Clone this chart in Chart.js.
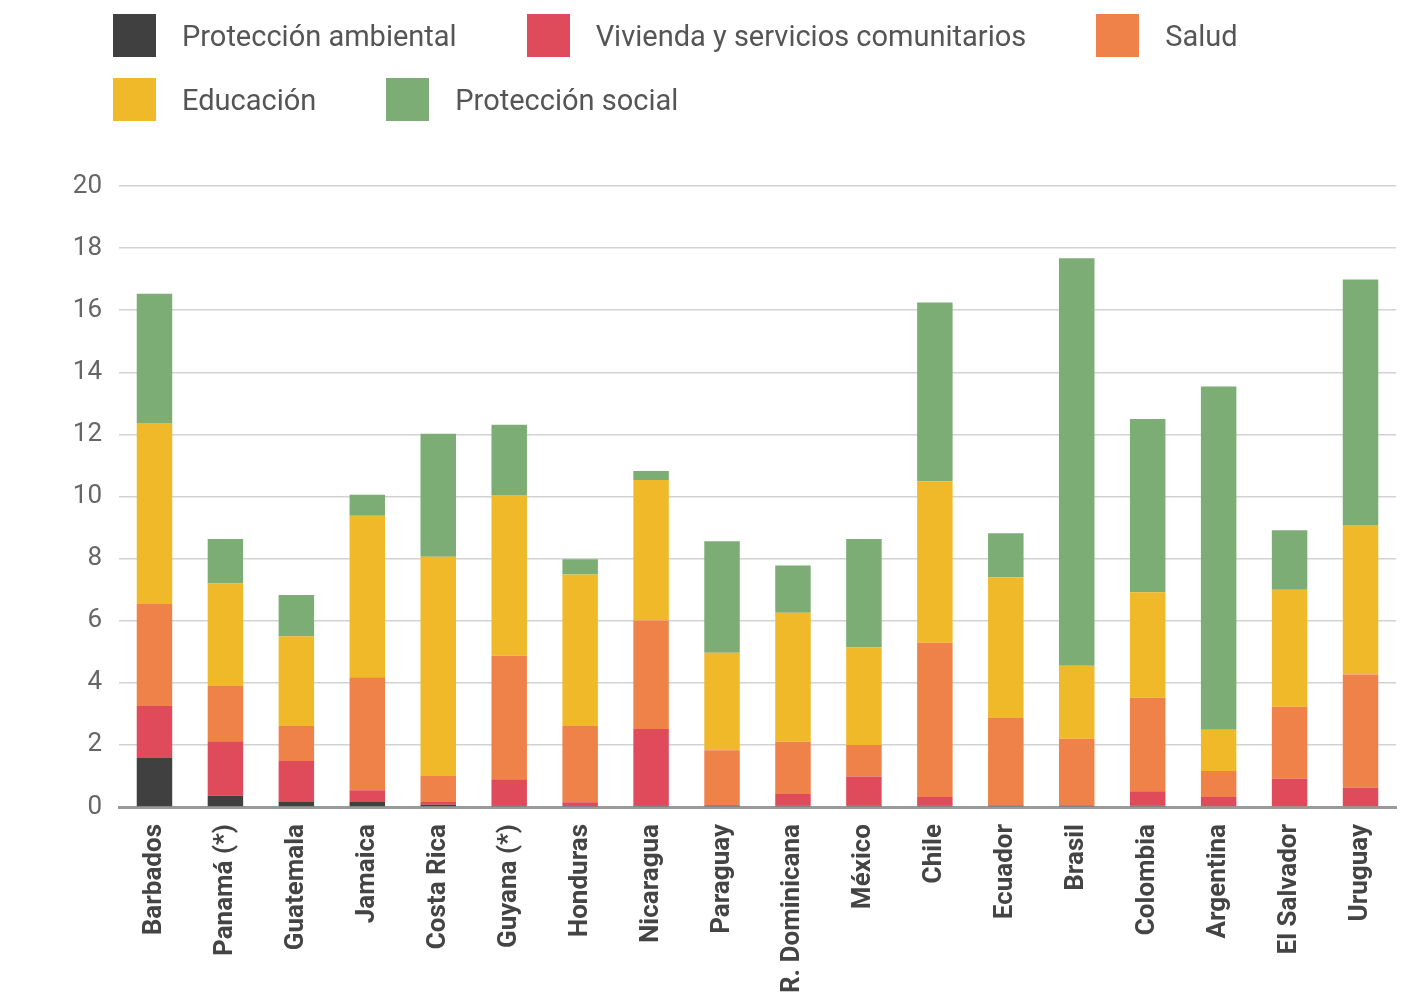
<!DOCTYPE html>
<html lang="es">
<head>
<meta charset="utf-8">
<title>Gasto social por función</title>
<script src="https://cdn.jsdelivr.net/npm/chart.js@4.4.1/dist/chart.umd.min.js"></script>
<style>
  html, body { margin: 0; padding: 0; background: #fff; }
  #wrap { position: relative; width: 1412px; height: 1001px; }
  #legend {
    position: absolute; left: 113px; top: 14px; width: 1290px;
    display: flex; flex-wrap: wrap; column-gap: 70px; row-gap: 21px;
    font-family: Roboto, sans-serif; font-size: 29px; color: #555;
  }
  .item { display: flex; align-items: center; height: 43px; }
  .box { width: 43px; height: 43px; margin-right: 26px; }
</style>
</head>
<body>
<div id="wrap">
  <div id="legend"></div>
  <canvas id="myChart" width="1412" height="1001"></canvas>
</div>
<script>
// Categorías (países) y series por función del gasto, en % del PIB
const paises = ['Barbados', 'Panamá (*)', 'Guatemala', 'Jamaica', 'Costa Rica', 'Guyana (*)',
  'Honduras', 'Nicaragua', 'Paraguay', 'R. Dominicana', 'México', 'Chile', 'Ecuador',
  'Brasil', 'Colombia', 'Argentina', 'El Salvador', 'Uruguay'];

const proteccionAmbiental = [1.58, 0.36, 0.16, 0.16, 0.07, 0.05, 0.03, 0.05, 0.05, 0.04, 0.04, 0.04, 0.04, 0.04, 0.04, 0.0, 0.0, 0.0];
const vivienda = [1.67, 1.76, 1.32, 0.38, 0.09, 0.84, 0.12, 2.46, 0.0, 0.38, 0.94, 0.28, 0.02, 0.02, 0.47, 0.32, 0.91, 0.62];
const salud = [3.29, 1.78, 1.13, 3.64, 0.84, 3.98, 2.46, 3.50, 1.78, 1.68, 1.02, 4.97, 2.81, 2.14, 3.01, 0.84, 2.32, 3.65];
const educacion = [5.83, 3.31, 2.89, 5.20, 7.06, 5.18, 4.88, 4.52, 3.14, 4.16, 3.14, 5.20, 4.53, 2.35, 3.40, 1.33, 3.77, 4.81];
const proteccionSocial = [4.16, 1.42, 1.33, 0.68, 3.96, 2.26, 0.49, 0.29, 3.59, 1.52, 3.49, 5.76, 1.42, 13.12, 5.58, 11.05, 1.91, 7.91];

const yMax = 20;
const yStep = 2;

const series = [
  { label: 'Protección ambiental', data: proteccionAmbiental, color: '#404040' },
  { label: 'Vivienda y servicios comunitarios', data: vivienda, color: '#E04B5C' },
  { label: 'Salud', data: salud, color: '#EF8248' },
  { label: 'Educación', data: educacion, color: '#EFB92A' },
  { label: 'Protección social', data: proteccionSocial, color: '#7BAD74' }
];

document.addEventListener('DOMContentLoaded', function () {
  const ctx = document.getElementById('myChart');

  // leyenda propia arriba del gráfico
  const legend = document.getElementById('legend');
  series.forEach(s => {
    const item = document.createElement('div');
    item.className = 'item';
    const box = document.createElement('span');
    box.className = 'box';
    box.style.background = s.color;
    const txt = document.createElement('span');
    txt.textContent = s.label;
    item.appendChild(box);
    item.appendChild(txt);
    legend.appendChild(item);
  });

  new Chart(ctx, {
    type: 'bar',
    data: {
      labels: paises,
      datasets: series.map(s => ({
        label: s.label,
        data: s.data,
        backgroundColor: s.color,
        borderWidth: 0,
        barPercentage: 0.5,
        categoryPercentage: 1.0
      }))
    },
    options: {
      responsive: false,
      animation: false,
      layout: { padding: { top: 186, right: 16, left: 0, bottom: 0 } },
      plugins: {
        legend: { display: false },
        tooltip: { enabled: false }
      },
      scales: {
        x: {
          stacked: true,
          grid: { display: false, drawTicks: false },
          border: { display: true, color: '#9a9a9a', width: 3 },
          ticks: {
            minRotation: 90, maxRotation: 90,
            padding: 17,
            color: '#444',
            font: { family: 'Roboto', size: 26, weight: 'bold' }
          },
          afterFit: function (scale) { scale.height = 194; }
        },
        y: {
          stacked: true,
          min: 0, max: yMax,
          grid: { color: '#d2d2d2', lineWidth: 1.5, drawTicks: false },
          border: { display: false },
          ticks: {
            stepSize: yStep,
            padding: 17,
            color: '#666',
            font: { family: 'Roboto', size: 26 }
          },
          afterFit: function (scale) { scale.width = 119; }
        }
      }
    }
  });
});
</script>
</body>
</html>
